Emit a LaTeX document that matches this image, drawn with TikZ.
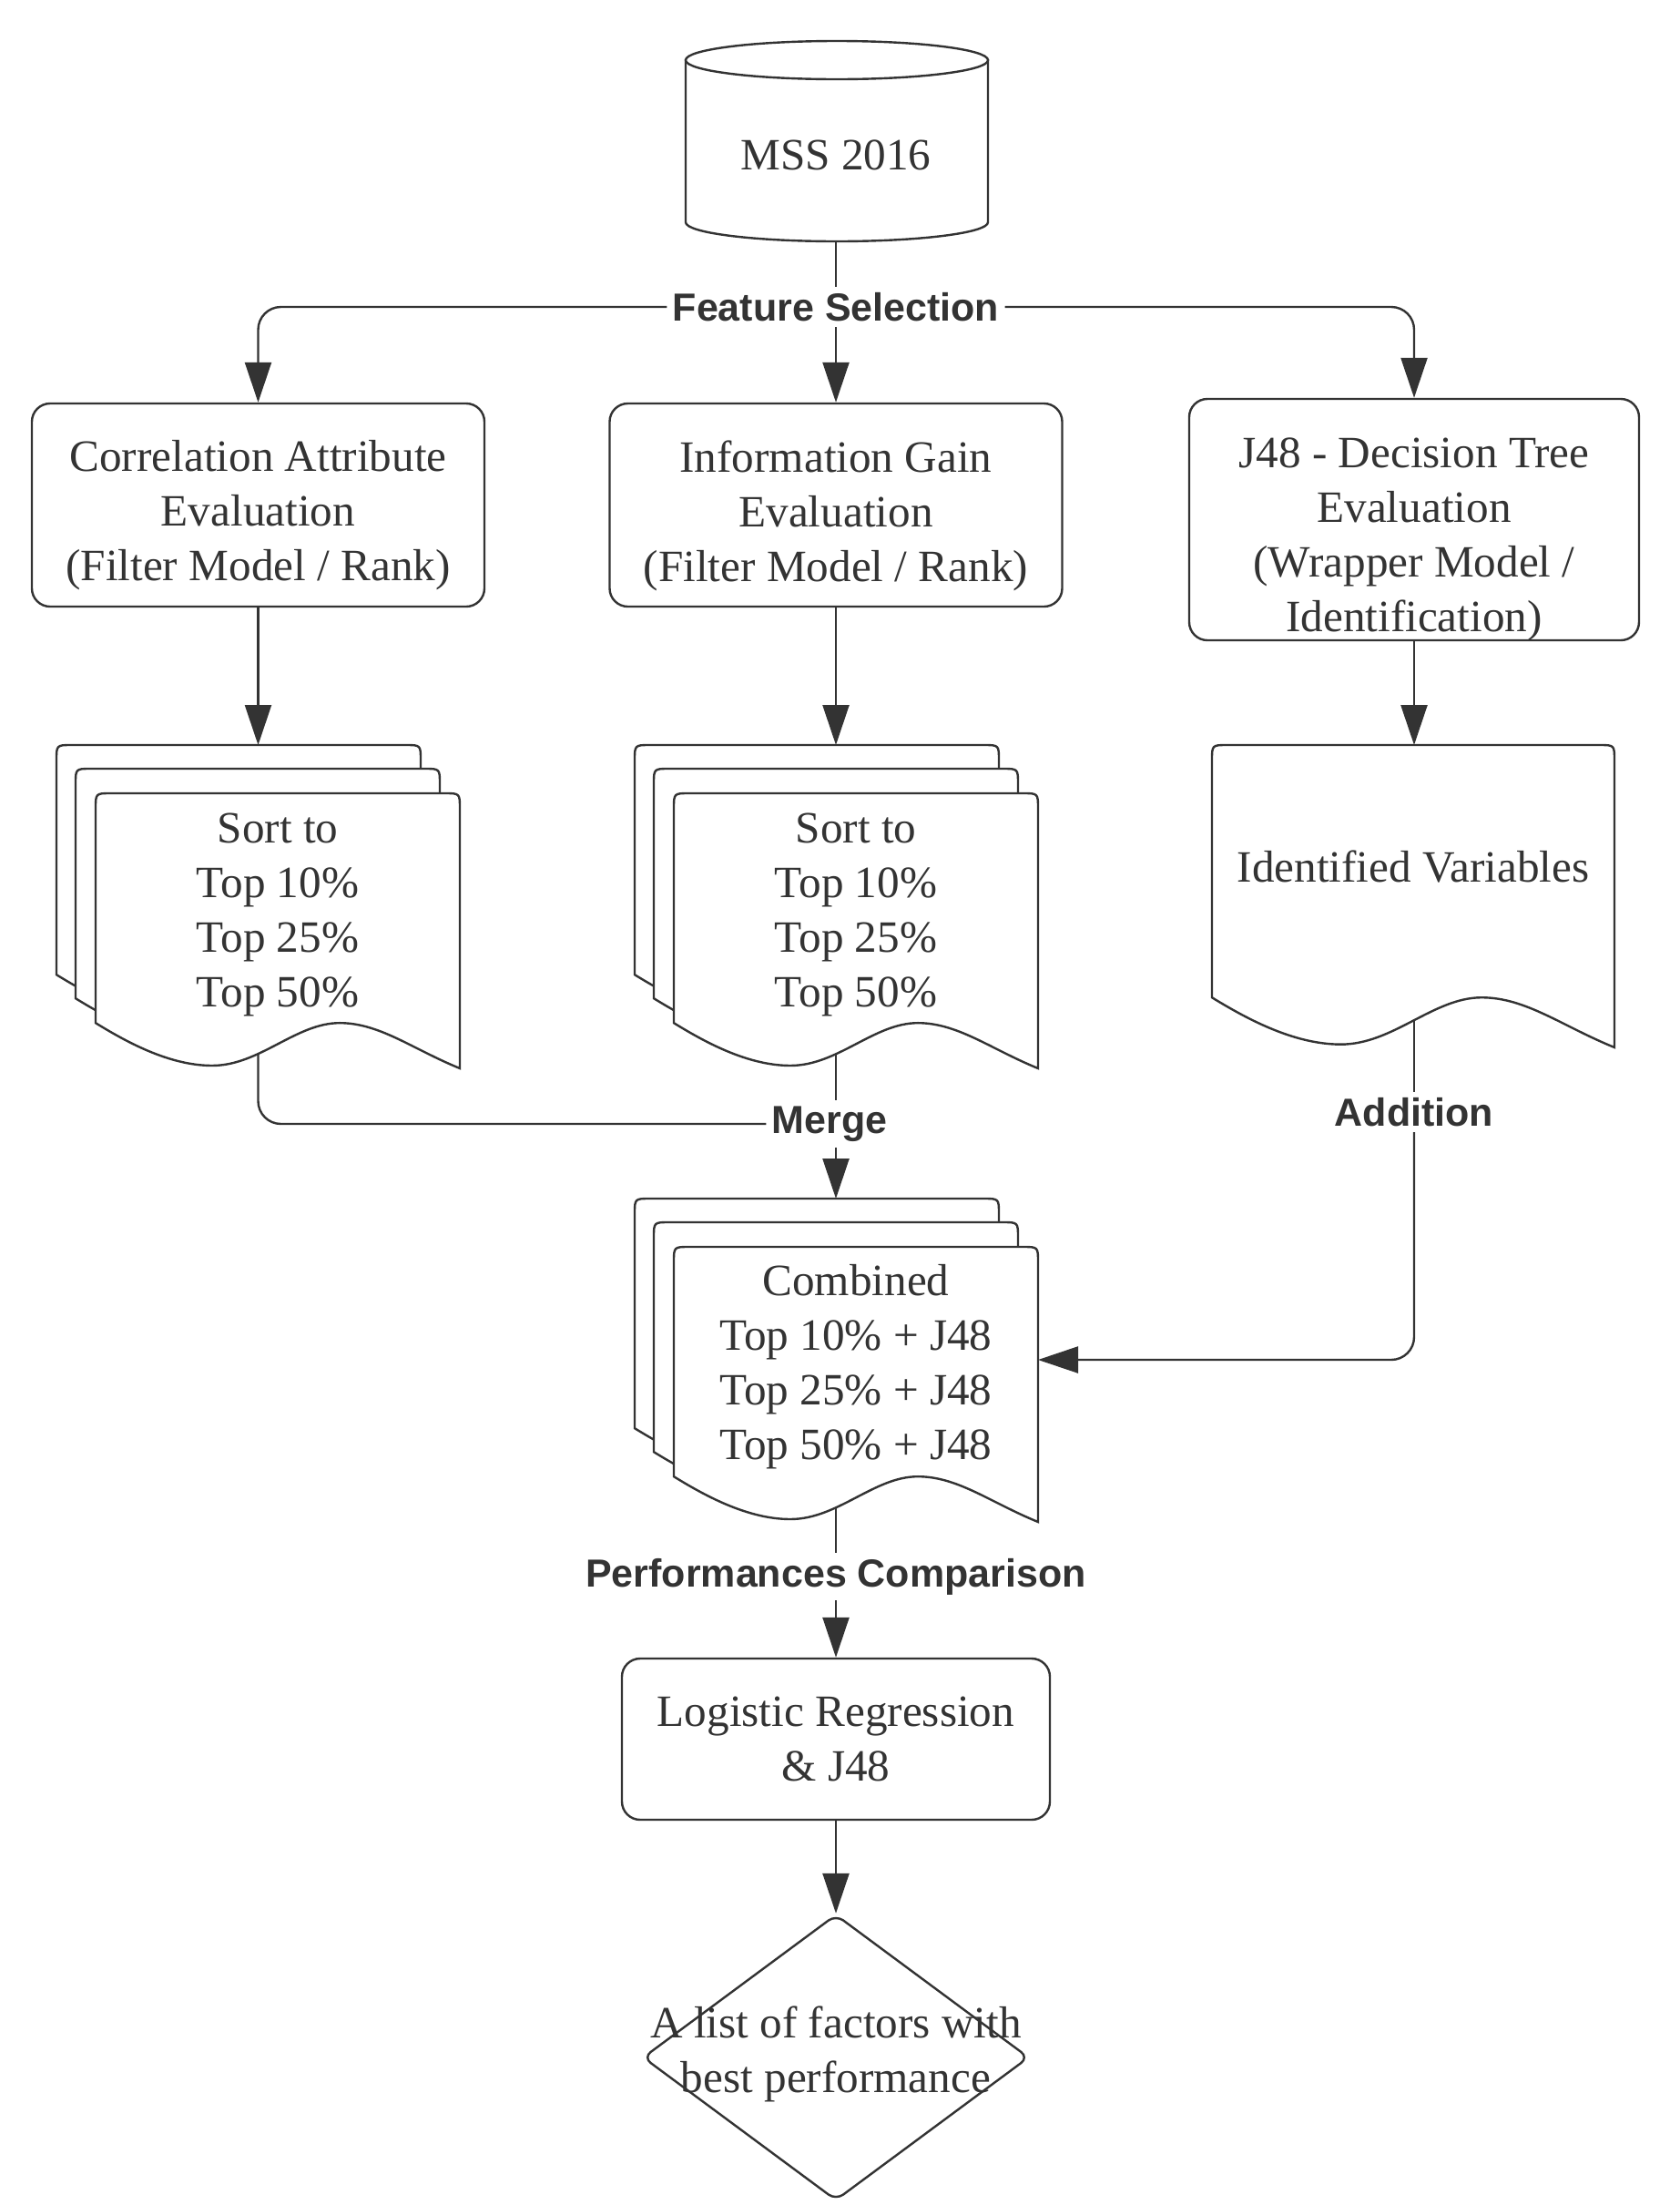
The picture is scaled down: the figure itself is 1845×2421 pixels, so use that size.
\documentclass[tikz,border=0pt]{standalone}
\usepackage{fontspec}
\setmainfont{Liberation Serif}
\setsansfont{Liberation Sans}
\usetikzlibrary{shapes.geometric,arrows.meta,calc}
\pgfdeclarelayer{bg}
\pgfsetlayers{bg,main}
\definecolor{ink}{HTML}{333333}
\newcommand{\docshape}[4]{%
 \filldraw[shapest] ({#1},{#2+0.835*#4}) -- ({#1},{#2+17}) .. controls ({#1},{#2}) .. ({#1+17},{#2})
 -- ({#1+#3-17},{#2}) .. controls ({#1+#3},{#2}) .. ({#1+#3},{#2+17})
 -- ({#1+#3},{#2+#4})
 .. controls ({#1+0.87*#3},{#2+0.93*#4}) and ({#1+0.78*#3},{#2+0.835*#4}) .. ({#1+0.67*#3},{#2+0.835*#4})
 .. controls ({#1+0.55*#3},{#2+0.835*#4}) and ({#1+0.45*#3},{#2+0.99*#4}) .. ({#1+0.32*#3},{#2+0.99*#4})
 .. controls ({#1+0.2*#3},{#2+0.99*#4}) and ({#1+0.08*#3},{#2+0.9*#4}) .. ({#1},{#2+0.835*#4}) -- cycle;}
\begin{document}
\begin{tikzpicture}[x=0.5pt,y=-0.5pt,
  shapest/.style={draw=ink, fill=white, line width=1.2pt},
  boxst/.style={shapest, rounded corners=10pt, inner sep=0},
  txt/.style={align=center, text=ink, font=\fontsize{24.6}{30}\selectfont, inner sep=0},
  lbl/.style={font=\sffamily\bfseries\fontsize{21.5}{25}\selectfont, text=ink, fill=white, inner sep=3pt},
  conn/.style={draw=ink, line width=1.2pt, rounded corners=12.5pt},
  arr/.style={conn, -{Triangle[length=22pt,width=14.5pt]}}]
\useasboundingbox (0,0) rectangle (1845,2421);

% database cylinder
\filldraw[shapest] (753,66) -- (753,244) arc[start angle=180, end angle=360, x radius=83pt, y radius=10.5pt] -- (1085,66) -- cycle;
\draw[shapest] (919,66) ellipse [x radius=83pt, y radius=10.5pt];
\node[txt, minimum width=166pt, minimum height=95pt] (db) at (918,170) {MSS 2016};

% labels
\node[lbl] (fs) at (918,337) {Feature Selection};
\node[lbl] (mg) at (911,1234) {Merge};
\node[lbl] (ad) at (1553,1221) {Addition};
\node[lbl] (pc) at (918,1731) {Performances Comparison};

% evaluation boxes
\node[boxst, minimum width=248.5pt, minimum height=111.5pt] (b1) at (283.5,554.5) {};
\node[txt] (b1t) at (283.5,566) {Correlation Attribute\\Evaluation\\(Filter Model / Rank)};
\node[boxst, minimum width=248.5pt, minimum height=111.5pt] (b2) at (918,554.5) {};
\node[txt] (b2t) at (918,566) {Information Gain\\Evaluation\\(Filter Model / Rank)};
\node[boxst, minimum width=247pt, minimum height=132.5pt] (b3) at (1553,570.5) {};
\node[txt] (b3t) at (1553,592) {J48 - Decision Tree\\Evaluation\\(Wrapper Model /\\Identification)};

% stacked documents (left)
\docshape{62}{818}{400}{302}
\docshape{83}{844}{400}{302}
\docshape{105}{871}{400}{302}
\node[txt] (s1t) at (305,1004) {Sort to\\Top 10\%\\Top 25\%\\Top 50\%};
% stacked documents (middle)
\docshape{697}{818}{400}{302}
\docshape{718}{844}{400}{302}
\docshape{740}{871}{400}{302}
\node[txt] (s2t) at (940,1004) {Sort to\\Top 10\%\\Top 25\%\\Top 50\%};
% identified variables
\docshape{1331}{818}{442}{332}
\node[txt] (ivt) at (1552,952) {Identified Variables};
% combined stack
\docshape{697}{1316}{400}{302}
\docshape{718}{1342}{400}{302}
\docshape{740}{1369}{400}{302}
\node[txt] (s3t) at (940,1501) {Combined\\Top 10\% + J48\\Top 25\% + J48\\Top 50\% + J48};

% logistic regression
\node[boxst, minimum width=235pt, minimum height=88.5pt] (lr) at (918,1909.5) {};
\node[txt] (lrt) at (918,1909) {Logistic Regression\\\& J48};
% diamond
\node[shapest, diamond, minimum width=212pt, minimum height=157pt, inner sep=0, rounded corners=5pt] (dm) at (918,2259) {};
\node[txt] (dmt) at (918,2255) {A list of factors with\\best performance};

% coordinates
\coordinate (s1in) at (283.5,818);
\coordinate (s2in) at (918,818);
\coordinate (ivin) at (1553,818);
\coordinate (s1out) at (283.5,1140);
\coordinate (s2out) at (918,1140);
\coordinate (ivout) at (1553,1100);
\coordinate (s3in) at (918,1316);
\coordinate (s3r) at (1140,1493);
\coordinate (s3out) at (918,1630);

\begin{pgfonlayer}{bg}
\fill[white] (0,0) rectangle (1845,2421);
\draw[conn] (db.south) -- (fs.north);
\draw[arr] (fs.west) -| (b1.north);
\draw[arr] (fs.south) -- (b2.north);
\draw[arr] (fs.east) -| (b3.north);
\draw[arr] (b1.south) -- (s1in);
\draw[arr] (b2.south) -- (s2in);
\draw[arr] (b3.south) -- (ivin);
\draw[conn] (s1out) |- (mg.west);
\draw[conn] (s2out) -- (s2out |- mg.north);
\draw[arr] (s2out |- mg.south) -- (s3in);
\draw[conn] (ivout) -- (ad.north);
\draw[arr] (ad.south) |- (s3r);
\draw[conn] (s3out) -- (pc.north);
\draw[arr] (pc.south) -- (lr.north);
\draw[arr] (lr.south) -- (dm.north);
\end{pgfonlayer}
\end{tikzpicture}
\end{document}
